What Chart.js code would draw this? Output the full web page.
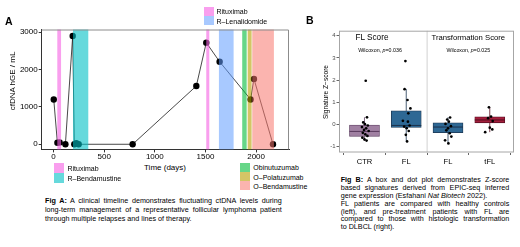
<!DOCTYPE html>
<html><head><meta charset="utf-8">
<script src="https://cdn.jsdelivr.net/npm/chart.js@4.4.1/dist/chart.umd.min.js"></script>
<style>
html,body{margin:0;padding:0;background:#fff;}
body{width:520px;height:247px;position:relative;overflow:hidden;font-family:"Liberation Sans",Arial,Helvetica,sans-serif;color:#000;}
.t{position:absolute;white-space:nowrap;line-height:1;}
.sq{position:absolute;}
canvas{position:absolute;}
.cap{position:absolute;white-space:nowrap;font-size:7.2px;}
.ca{line-height:9px;}
.cb{line-height:7.8px;}
.j{text-align:justify;text-align-last:justify;}
</style></head><body>
<canvas id="ca" width="300" height="160" style="left:0;top:0"></canvas>
<canvas id="cb" width="215" height="170" style="left:305px;top:0"></canvas>

<div class="t" style="left:5px;top:16px;font-size:10.5px;font-weight:bold">A</div>
<div class="t" style="left:306px;top:15px;font-size:10.5px;font-weight:bold">B</div>

<div class="t" style="left:13px;top:81px;font-size:8px;transform:translate(-50%,-50%) rotate(-90deg);">cfDNA hGE / mL</div>
<div class="t" style="left:165px;top:167.7px;font-size:8px;transform:translate(-50%,-50%)">Time (days)</div>

<div id="legTop"></div>
<div id="legBL"></div>
<div id="legBR"></div>

<div class="t" style="left:326px;top:92px;font-size:6.6px;transform:translate(-50%,-50%) rotate(-90deg);">Signature Z−score</div>
<div id="facetTxt"></div>

<div class="cap ca j" style="left:45px;top:195.8px;width:236.7px"><b>Fig A:</b> A clinical timeline demonstrates fluctuating ctDNA levels during</div>
<div class="cap ca j" style="left:45px;top:204.8px;width:236.7px">long-term management of a representative follicular lymphoma patient</div>
<div class="cap ca" style="left:45px;top:213.8px;">through multiple relapses and lines of therapy.</div>

<div class="cap cb j" style="left:340.7px;top:176.4px;width:168.6px"><b>Fig B:</b> A box and dot plot demonstrates Z-score</div>
<div class="cap cb j" style="left:340.7px;top:184.2px;width:168.6px">based signatures derived from EPIC-seq inferred</div>
<div class="cap cb" style="left:340.7px;top:192px;">gene expression (Esfahani <i>Nat Biotech</i> 2022).</div>
<div class="cap cb j" style="left:340.7px;top:199.8px;width:168.6px">FL patients are compared with healthy controls</div>
<div class="cap cb j" style="left:340.7px;top:207.6px;width:168.6px">(left), and pre-treatment patients with FL are</div>
<div class="cap cb j" style="left:340.7px;top:215.4px;width:168.6px">compared to those with histologic transformation</div>
<div class="cap cb" style="left:340.7px;top:223.2px;">to DLBCL (right).</div>

<script>
// ---------- Panel A data ----------
const days  = [2, 38, 60, 117, 189, 205, 225, 248, 781, 1410, 1508, 1640, 1946, 1979, 2167];
const ctdna = [1200, 40, 50, 0, 2900, 0, 30, 0, 0, 1560, 2720, 2210, 1200, 1750, 0];
const regimenNames = ['Rituximab', 'R–Bendamustine', 'Rituximab', 'R–Lenalidomide', 'Obinutuzumab', 'O–Polatuzumab', 'O–Bendamustine'];
const regimenStart = [37, 192, 1508, 1633, 1863, 1917, 1962];
const regimenEnd   = [74, 343, 1538, 1778, 1907, 1956, 2176];
const xTicksA = [0, 500, 1000, 1500, 2000];
const yTicksA = [0, 1000, 2000, 3000];
const legendTop = ['Rituximab', 'R–Lenalidomide'];
const legendBottomLeft = ['Rituximab', 'R–Bendamustine'];
const legendBottomRight = ['Obinutuzumab', 'O–Polatuzumab', 'O–Bendamustine'];

// ---------- Panel B data ----------
const groups = ['CTR', 'FL', 'FL', 'tFL'];
const groupPos = [1, 2, 3, 4];
const boxQ1     = [-0.54, -0.14, -0.38, 0.07];
const boxMedian = [-0.32, -0.05, -0.12, 0.20];
const boxQ3     = [-0.03, 0.61, 0.07, 0.34];
const whiskerLo = [-0.75, -0.77, -0.86, -0.35];
const whiskerHi = [0.32, 1.60, 0.32, 0.77];
const ctrX = [1.03, 1.06, 0.97, 1.01, 1.08, 0.94, 1.04, 0.99, 1.10, 0.96, 1.02, 1.07, 0.95, 1.00, 1.05];
const ctrY = [1.97, 0.32, 0.09, 0.01, -0.05, -0.12, -0.18, -0.25, -0.30, -0.38, -0.45, -0.52, -0.60, -0.68, -0.73];
const flX  = [1.98, 1.96, 2.03, 2.10, 2.05, 1.92, 2.04, 2.08, 1.95, 2.01, 2.06, 1.99, 2.02];
const flY  = [2.86, 1.59, 1.10, 0.72, 0.50, 0.16, 0.12, -0.05, -0.10, -0.17, -0.30, -0.47, -0.77];
const fl2X = [3.05, 2.98, 3.02, 2.94, 3.07, 3.00, 2.96, 3.04, 3.08, 2.93, 3.01];
const fl2Y = [0.31, 0.22, 0.12, 0.02, -0.08, -0.18, -0.27, -0.40, -0.55, -0.72, -0.86];
const tflX = [3.98, 4.03, 3.96, 4.07, 4.00, 4.06, 3.89];
const tflY = [0.77, 0.35, 0.28, 0.15, -0.15, -0.23, -0.35];
const yTicksB = [-1, 0, 1, 2, 3, 4];
const facetTitles = ['FL Score', 'Transformation Score'];
const facetP = ['0.036', '0.025'];

// ---------- styles ----------
const FONT = "'Liberation Sans', Arial, Helvetica, sans-serif";
const regimenColor = {
  'Rituximab': 'rgba(245,100,227,0.62)',
  'R–Bendamustine': 'rgba(0,191,196,0.6)',
  'R–Lenalidomide': 'rgba(97,156,255,0.55)',
  'Obinutuzumab': 'rgba(0,186,56,0.6)',
  'O–Polatuzumab': 'rgba(183,159,0,0.6)',
  'O–Bendamustine': 'rgba(248,118,109,0.55)'
};
const boxFill   = ['rgba(160,128,162,1)', 'rgba(46,104,148,1)', 'rgba(46,104,148,1)', 'rgba(163,30,60,1)'];
const boxStroke = ['#5e3f62', '#1c3550', '#1c3550', '#5a0f22'];
const facetTitleCenter = [372, 468.3];
const facetTitleSize = [8.2, 7.7];
const facetPCenter = [380, 468.3];

function legend(id, names, x, y0, h, w, tx) {
  const el = document.getElementById(id);
  names.forEach((n, i) => {
    const s = document.createElement('div');
    s.className = 'sq';
    s.style.cssText = `left:${x}px;top:${y0 + i * h}px;width:${w}px;height:${h}px;background:${regimenColor[n]}`;
    el.appendChild(s);
    const t = document.createElement('div');
    t.className = 't';
    t.style.cssText = `left:${tx}px;top:${y0 + i * h + h / 2}px;font-size:7px;transform:translateY(-50%)`;
    t.textContent = n;
    el.appendChild(t);
  });
}
legend('legTop', legendTop, 204, 6.8, 9.3, 9.5, 216.5);
legend('legBL', legendBottomLeft, 54.3, 163.3, 9.7, 9.7, 67.5);
legend('legBR', legendBottomRight, 240.2, 162.7, 9.2, 9.7, 253.3);

(function () {
  const el = document.getElementById('facetTxt');
  facetTitles.forEach((ft, i) => {
    const a = document.createElement('div');
    a.className = 't';
    a.style.cssText = `left:${facetTitleCenter[i]}px;top:38.3px;font-size:${facetTitleSize[i]}px;transform:translate(-50%,-50%)`;
    a.textContent = ft;
    el.appendChild(a);
    const b = document.createElement('div');
    b.className = 't';
    b.style.cssText = `left:${facetPCenter[i]}px;top:50.7px;font-size:5.3px;transform:translate(-50%,-50%)`;
    b.innerHTML = 'Wilcoxon, <i>p</i>=' + facetP[i];
    el.appendChild(b);
  });
})();

// ---------- Panel A chart ----------
const bandPlugin = {
  id: 'bands',
  afterDatasetsDraw(chart) {
    const {ctx, chartArea: a, scales: {x}} = chart;
    ctx.save();
    regimenNames.forEach((n, i) => {
      const x0 = x.getPixelForValue(regimenStart[i]);
      const x1 = x.getPixelForValue(regimenEnd[i]);
      ctx.fillStyle = regimenColor[n];
      ctx.fillRect(x0, a.top, x1 - x0, a.bottom - a.top);
    });
    ctx.restore();
  }
};
const frameA = {
  id: 'frameA',
  afterDraw(chart) {
    const {ctx, chartArea: a} = chart;
    ctx.save();
    ctx.strokeStyle = '#8c8c8c';
    ctx.lineWidth = 1;
    ctx.beginPath();
    ctx.moveTo(a.left, a.top + 0.5); ctx.lineTo(a.right - 0.5, a.top + 0.5); ctx.lineTo(a.right - 0.5, a.bottom);
    ctx.stroke();
    ctx.restore();
  }
};
new Chart(document.getElementById('ca'), {
  type: 'line',
  data: { datasets: [{
    data: days.map((d, i) => ({x: d, y: ctdna[i]})),
    borderColor: '#1a1a1a', borderWidth: 0.8, tension: 0,
    pointRadius: 3.2, pointBackgroundColor: '#000', pointBorderWidth: 0
  }]},
  options: {
    responsive: false, animation: false, devicePixelRatio: 1,
    layout: {padding: {left: 0, top: 29.5, right: 11, bottom: 0}},
    plugins: {legend: {display: false}, tooltip: {enabled: false}},
    scales: {
      x: {
        type: 'linear', min: -117, max: 2325,
        afterBuildTicks: s => { s.ticks = xTicksA.map(v => ({value: v})); },
        afterFit: s => { s.height = 10.6; },
        grid: {drawOnChartArea: false, drawTicks: true, tickLength: 3, color: '#333'},
        border: {color: '#333', width: 1},
        ticks: {font: {family: FONT, size: 8}, color: '#000', padding: 0, maxRotation: 0, callback: v => String(v)}
      },
      y: {
        type: 'linear', min: -137, max: 3072,
        afterBuildTicks: s => { s.ticks = yTicksA.map(v => ({value: v})); },
        afterFit: s => { s.width = 41.7; },
        grid: {drawOnChartArea: false, drawTicks: true, tickLength: 3, color: '#333'},
        border: {color: '#333', width: 1},
        ticks: {font: {family: FONT, size: 8}, color: '#000', padding: 1, callback: v => String(v)}
      }
    }
  },
  plugins: [bandPlugin, frameA]
});

// ---------- Panel B chart ----------
const whiskerPlugin = {
  id: 'whiskers',
  beforeDatasetsDraw(chart) {
    const {ctx, chartArea: a, scales: {x, y}} = chart;
    ctx.save();
    const xd = x.getPixelForValue(2.5);
    ctx.strokeStyle = '#d9d9d9'; ctx.lineWidth = 1.2;
    ctx.beginPath(); ctx.moveTo(xd, a.top); ctx.lineTo(xd, a.bottom); ctx.stroke();
    groupPos.forEach((p, i) => {
      const px = x.getPixelForValue(p);
      ctx.strokeStyle = boxStroke[i]; ctx.lineWidth = 0.8;
      ctx.beginPath();
      ctx.moveTo(px, y.getPixelForValue(whiskerHi[i])); ctx.lineTo(px, y.getPixelForValue(boxQ3[i]));
      ctx.moveTo(px, y.getPixelForValue(whiskerLo[i])); ctx.lineTo(px, y.getPixelForValue(boxQ1[i]));
      ctx.stroke();
    });
    ctx.restore();
  },
  afterDatasetDraw(chart, args) {
    if (args.index !== 0) return;
    const {ctx, scales: {x, y}} = chart;
    ctx.save();
    groupPos.forEach((p, i) => {
      const px = x.getPixelForValue(p);
      const py = y.getPixelForValue(boxMedian[i]);
      ctx.strokeStyle = boxStroke[i]; ctx.lineWidth = 1.1;
      ctx.beginPath(); ctx.moveTo(px - 15, py); ctx.lineTo(px + 15, py); ctx.stroke();
    });
    ctx.restore();
  },
  afterDraw(chart) {
    const {ctx, chartArea: a} = chart;
    ctx.save();
    ctx.strokeStyle = '#a6a6a6'; ctx.lineWidth = 1;
    ctx.strokeRect(a.left + 0.5, a.top + 0.5, a.right - a.left - 1, a.bottom - a.top - 1);
    ctx.restore();
  }
};
const pts = (xs, ys) => xs.map((v, i) => ({x: v, y: ys[i]}));
new Chart(document.getElementById('cb'), {
  data: { datasets: [
    { type: 'bar', data: groupPos.map((p, i) => ({x: p, y: [boxQ1[i], boxQ3[i]]})),
      backgroundColor: boxFill, borderColor: boxStroke, borderWidth: 0.8, borderSkipped: false,
      barThickness: 30, order: 2 },
    { type: 'scatter', data: [].concat(pts(ctrX, ctrY), pts(flX, flY), pts(fl2X, fl2Y), pts(tflX, tflY)),
      pointRadius: 1.35, pointBackgroundColor: '#000', pointBorderWidth: 0, order: 1 }
  ]},
  options: {
    responsive: false, animation: false, devicePixelRatio: 1,
    layout: {padding: {left: 0, top: 30.7, right: 6, bottom: 0}},
    plugins: {legend: {display: false}, tooltip: {enabled: false}},
    scales: {
      x: {
        type: 'linear', min: 0.39, max: 4.58, offset: false,
        afterBuildTicks: s => { s.ticks = groupPos.map(v => ({value: v})); },
        afterFit: s => { s.height = 17.5; },
        grid: {drawOnChartArea: false, drawTicks: true, tickLength: 2.5, color: '#666'},
        border: {display: false},
        ticks: {font: {family: FONT, size: 7.6}, color: '#000', padding: 2, maxRotation: 0,
                callback: v => groups[groupPos.indexOf(v)]}
      },
      y: {
        type: 'linear', min: -1.27, max: 4.23,
        afterBuildTicks: s => { s.ticks = yTicksB.map(v => ({value: v})); },
        afterFit: s => { s.width = 34; },
        grid: {drawOnChartArea: false, drawTicks: true, tickLength: 2.5, color: '#666'},
        border: {display: false},
        ticks: {font: {family: FONT, size: 6}, color: '#4d4d4d', padding: 1, callback: v => String(v)}
      }
    }
  },
  plugins: [whiskerPlugin]
});
</script>
</body></html>
